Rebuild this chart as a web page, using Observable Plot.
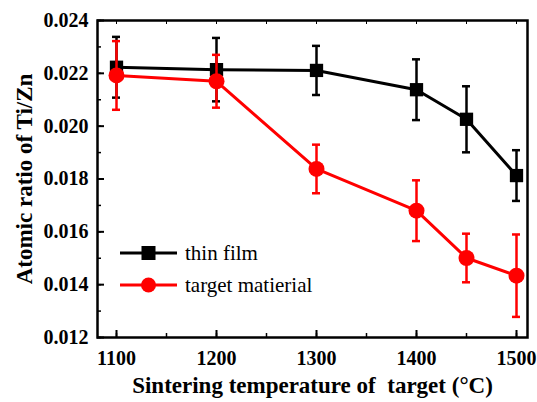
<!DOCTYPE html>
<html>
<head>
<meta charset="utf-8">
<script src="https://cdn.jsdelivr.net/npm/d3@7"></script>
<script src="https://cdn.jsdelivr.net/npm/@observablehq/plot@0.6"></script>
<style>
  html, body { margin: 0; padding: 0; background: #fff; }
  #chart svg { display: block; }
  #chart svg text { font-family: "Liberation Serif", "Times New Roman", serif; }
</style>
</head>
<body>
<div id="chart"></div>
<script>
// Sintering temperature (°C)
const temperatures = [1100, 1200, 1300, 1400, 1450, 1500];

// Ti/Zn atomic ratio of the deposited thin film, with error half-widths
const filmRatio = [0.02223, 0.02214, 0.02211, 0.02138, 0.02026, 0.01813];
const filmError = [0.00115, 0.00120, 0.00093, 0.00115, 0.00125, 0.00096];

// Ti/Zn atomic ratio of the target material, with error half-widths
const targetRatio = [0.02192, 0.02170, 0.01838, 0.01680, 0.01501, 0.01434];
const targetError = [0.00130, 0.00100, 0.00092, 0.00115, 0.00092, 0.00156];

const seriesNames = ["thin film", "target matierial"];
const seriesColors = ["#000000", "#ff0000"];

const yTicks = [0.012, 0.014, 0.016, 0.018, 0.020, 0.022, 0.024];
const xTicks = [1100, 1200, 1300, 1400, 1500];

const film = temperatures.map((t, i) => ({t, v: filmRatio[i], e: filmError[i]}));
const target = temperatures.map((t, i) => ({t, v: targetRatio[i], e: targetError[i]}));

const font = "Liberation Serif, Times New Roman, serif";

// Error bar (vertical rule plus short caps) for one series
function errorMarks(data, color) {
  const lo = d => d.v - d.e, hi = d => d.v + d.e;
  return [
    Plot.ruleX(data, {x: "t", y1: lo, y2: hi, stroke: color, strokeWidth: 2.5}),
    Plot.ruleY(data, {x1: "t", x2: "t", y: hi, stroke: color, strokeWidth: 2.5, insetLeft: -4, insetRight: -4}),
    Plot.ruleY(data, {x1: "t", x2: "t", y: lo, stroke: color, strokeWidth: 2.5, insetLeft: -4, insetRight: -4})
  ];
}

try {
  const chart = Plot.plot({
    width: 537,
    height: 402,
    marginLeft: 97,
    marginRight: 10,
    marginTop: 20,
    marginBottom: 65,
    style: {fontFamily: font, background: "#fff", overflow: "visible"},
    x: {domain: [1081, 1511]},
    y: {domain: [0.012, 0.024]},
    marks: [
      // minor ticks
      Plot.axisX({anchor: "bottom", ticks: d3.range(1100, 1501, 50), tickSize: -4, text: null, strokeWidth: 1.5, label: null}),
      Plot.axisY({anchor: "left", ticks: d3.range(0.012, 0.0241, 0.001), tickSize: -4, text: null, strokeWidth: 1.5, label: null}),
      Plot.axisX({anchor: "top", ticks: d3.range(1100, 1501, 50), tickSize: -3, text: null, strokeWidth: 1, label: null}),
      // major ticks with labels
      Plot.axisX({
        anchor: "bottom", ticks: xTicks, tickSize: -7, tickPadding: 20, tickFormat: d => String(d),
        fontSize: 20, fontWeight: "bold", fontFamily: font, strokeWidth: 2,
        label: "Sintering temperature of  target (°C)", labelAnchor: "center", labelArrow: "none", labelOffset: 55
      }),
      Plot.axisY({
        anchor: "left", ticks: yTicks, tickSize: -7, tickPadding: 16, tickFormat: d3.format(".3f"),
        fontSize: 20, fontWeight: "bold", fontFamily: font, strokeWidth: 2,
        label: "Atomic ratio of Ti/Zn", labelAnchor: "center", labelArrow: "none", labelOffset: 82
      }),
      Plot.frame({stroke: "#000", strokeWidth: 2.5}),
      // thin film
      ...errorMarks(film, seriesColors[0]),
      Plot.line(film, {x: "t", y: "v", stroke: seriesColors[0], strokeWidth: 3}),
      Plot.dot(film, {x: "t", y: "v", symbol: "square", r: 7.5, fill: seriesColors[0]}),
      // target material
      ...errorMarks(target, seriesColors[1]),
      Plot.line(target, {x: "t", y: "v", stroke: seriesColors[1], strokeWidth: 3}),
      Plot.dot(target, {x: "t", y: "v", symbol: "circle", r: 8, fill: seriesColors[1]})
    ]
  });

  // Axis titles: bold serif
  const svg = d3.select(chart);
  svg.selectAll("[aria-label='x-axis label'], [aria-label='y-axis label']")
    .style("font-size", "23px").style("font-weight", "bold").attr("fill", "#000");

  // Legend inside the plot area
  const legend = svg.append("g").attr("text-anchor", "start");
  seriesNames.forEach((name, k) => {
    const y = 253 + k * 32;
    const row = legend.append("g").attr("transform", `translate(120,${y})`);
    row.append("line").attr("x1", 0).attr("x2", 57).attr("y1", 0).attr("y2", 0)
      .attr("stroke", seriesColors[k]).attr("stroke-width", 3);
    if (k === 0) {
      row.append("rect").attr("x", 21.5).attr("y", -7).attr("width", 14).attr("height", 14).attr("fill", seriesColors[k]);
    } else {
      row.append("circle").attr("cx", 28.5).attr("cy", 0).attr("r", 7.5).attr("fill", seriesColors[k]);
    }
    row.append("text").attr("x", 65).attr("y", 0).attr("dy", "0.32em")
      .style("font-size", "21px").attr("fill", "#000").text(name);
  });

  document.getElementById("chart").appendChild(chart);
} catch (err) {
  document.getElementById("chart").textContent = String(err && err.stack || err);
}
</script>
</body>
</html>
